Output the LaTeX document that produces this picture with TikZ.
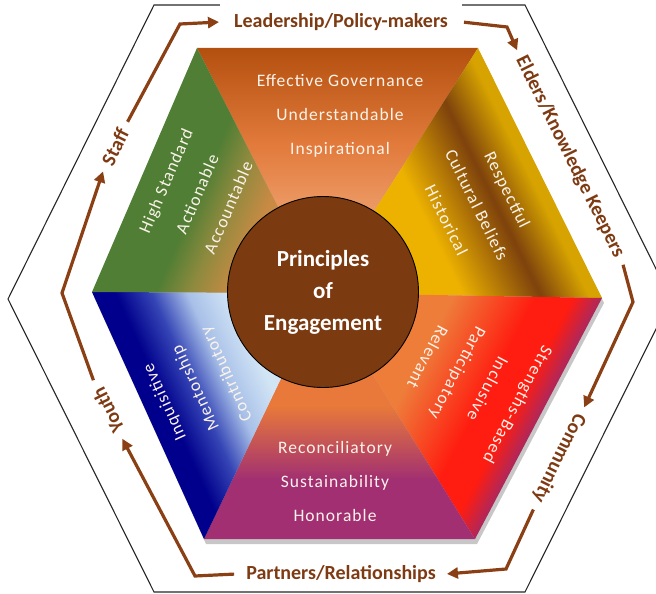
\documentclass[tikz,border=0pt]{standalone}
\usepackage{fontspec}
\setmainfont{Carlito}
\newfontfamily\facetfont[LetterSpace=6]{Carlito}
\usetikzlibrary{arrows.meta}
\definecolor{ringc}{HTML}{7E3A12}
\definecolor{arrowc}{HTML}{8A4014}
\definecolor{corec}{HTML}{7C3A10}
\definecolor{facettextc}{HTML}{FBF3EA}
\definecolor{govlight}{HTML}{F6B68C}
\definecolor{govmid}{HTML}{E27B3C}
\definecolor{govdark}{HTML}{B4500F}
\definecolor{standgreen}{HTML}{4F7E34}
\definecolor{standolive}{HTML}{8E8A3E}
\definecolor{standtan}{HTML}{C98A44}
\definecolor{herigold}{HTML}{EDB200}
\definecolor{heribrown}{HTML}{7E420C}
\definecolor{heriedge}{HTML}{D6A300}
\definecolor{strorange}{HTML}{EE7D3A}
\definecolor{strred}{HTML}{FF1C10}
\definecolor{strpurple}{HTML}{9A2A6E}
\definecolor{recorange}{HTML}{E8793A}
\definecolor{recpurple}{HTML}{A12F72}
\definecolor{mentdark}{HTML}{00008C}
\definecolor{mentmid}{HTML}{3545B5}
\definecolor{mentlight}{HTML}{A8C0E8}
\definecolor{mentpale}{HTML}{D2E5F5}
% colour runs go from the hub (left) to the rim (right)
\pgfdeclarehorizontalshading{governfade}{100bp}{color(0bp)=(govlight); color(30bp)=(govlight); color(55bp)=(govmid); color(75bp)=(govdark); color(100bp)=(govdark)}
\pgfdeclarehorizontalshading{standardfade}{100bp}{color(0bp)=(standtan); color(35bp)=(standtan); color(43bp)=(standolive); color(50bp)=(standgreen); color(100bp)=(standgreen)}
\pgfdeclarehorizontalshading{heritagefade}{100bp}{color(0bp)=(herigold); color(40bp)=(herigold); color(53bp)=(heribrown); color(61bp)=(heriedge); color(100bp)=(heriedge)}
\pgfdeclarehorizontalshading{strengthfade}{100bp}{color(0bp)=(strorange); color(38bp)=(strorange); color(52bp)=(strred); color(58bp)=(strred); color(64bp)=(strpurple); color(100bp)=(strpurple)}
\pgfdeclarehorizontalshading{reconcilefade}{100bp}{color(0bp)=(recorange); color(48bp)=(recorange); color(63bp)=(recpurple); color(100bp)=(recpurple)}
\pgfdeclarehorizontalshading{mentorfade}{100bp}{color(0bp)=(mentpale); color(35bp)=(mentpale); color(43bp)=(mentlight); color(50bp)=(mentmid); color(57bp)=(mentdark); color(100bp)=(mentdark)}
\tikzset{
  rimline/.style={draw=black!85, line width=1.1pt, line join=miter},
  facettext/.style={text=facettextc, align=center, inner sep=0pt,
    font=\facetfont\fontsize{17.5}{34}\selectfont},
  corenode/.style={circle, draw=black, line width=0.9pt, fill=corec, text=white,
    minimum size=191pt, inner sep=0pt, align=center,
    font=\fontsize{23}{32}\selectfont\bfseries},
  ringlabel/.style={text=ringc, inner xsep=7pt, inner ysep=3pt,
    font=\fontsize{20}{24}\selectfont\bfseries},
  flowarrow/.style={draw=arrowc, line width=3.2pt, line join=miter,
    -{Triangle[length=11pt,width=11pt]}, shorten <=2pt, shorten >=1pt},
}

\begin{document}
\begin{tikzpicture}[x=1pt, y=-1pt]
  \useasboundingbox (0,0) rectangle (656,594);
  \draw[rimline] (154,5) -- (525,5) -- (671,299) -- (525,592) -- (154,592) -- (8,299) -- cycle;

  \coordinate (hexTL) at (197,48);
  \coordinate (hexTR) at (478,48);
  \coordinate (hexR) at (602,298);
  \coordinate (hexBR) at (475,539);
  \coordinate (hexBL) at (204,539);
  \coordinate (hexL) at (92,292);
  \coordinate (hub) at (322,293);

  \fill[black, opacity=0.22] ([shift={(2,5)}]hexTL) -- ([shift={(2,5)}]hexTR) -- ([shift={(2,5)}]hexR)
    -- ([shift={(2,5)}]hexBR) -- ([shift={(2,5)}]hexBL) -- ([shift={(2,5)}]hexL) -- cycle;
  \shade[shading=governfade, shading angle=90] (hexTL) -- (hexTR) -- (hub) -- cycle;
  \shade[shading=heritagefade, shading angle=26.4] (hexTR) -- (hexR) -- (hub) -- cycle;
  \shade[shading=strengthfade, shading angle=-27.7] (hexR) -- (hexBR) -- (hub) -- cycle;
  \shade[shading=reconcilefade, shading angle=-90] (hexBR) -- (hexBL) -- (hub) -- cycle;
  \shade[shading=mentorfade, shading angle=204.5] (hexBL) -- (hexL) -- (hub) -- cycle;
  \shade[shading=standardfade, shading angle=156.7] (hexL) -- (hexTL) -- (hub) -- cycle;

  \node[corenode] (core) at (323,292) {Principles\\of\\Engagement};

  \node[facettext] (governance) at (340,116) {Effective Governance\\Understandable\\Inspirational};
  \node[facettext, rotate=-63.6] (heritage) at (477,205) {Respectful\\Cultural Beliefs\\Historical};
  \node[facettext, rotate=-117.7] (strengths) at (473,381) {Strengths-Based\\Inclusive\\Participatory\\Relevant};
  \node[facettext] (reconcile) at (335,481) {Reconciliatory\\Sustainability\\Honorable};
  \node[facettext, rotate=114.5] (mentor) at (196,388) {Inquisitive\\Mentorship\\Contributory};
  \node[facettext, rotate=66.7] (standard) at (197,194) {High Standard\\Actionable\\Accountable};

  \node[ringlabel, fill=white, inner xsep=14pt, minimum height=36pt] (lead) at (341,22) {Leadership/Policy-makers};
  \node[ringlabel, rotate=-63.6] (elders) at (570,157) {Elders/Knowledge Keepers};
  \node[ringlabel, rotate=-116.5] (community) at (559,458) {Community};
  \node[ringlabel, inner xsep=10pt] (partners) at (341,574) {Partners/Relationships};
  \node[ringlabel, rotate=116.5] (youth) at (108,410) {Youth};
  \node[ringlabel, rotate=63.6] (staff) at (115,147) {Staff};

  \coordinate (bendTL) at (180,24);
  \coordinate (bendTR) at (507,27);
  \coordinate (bendR) at (633,302);
  \coordinate (bendBR) at (506,569);
  \coordinate (bendBL) at (195,576);
  \coordinate (bendL) at (62,293);

  \draw[flowarrow] (staff.east) -- (bendTL) -- (lead.west);
  \draw[flowarrow] (lead.east) -- (bendTR) -- (elders.west);
  \draw[flowarrow] (elders.east) -- (bendR) -- (community.west);
  \draw[flowarrow] (community.east) -- (bendBR) -- (partners.east);
  \draw[flowarrow] (partners.west) -- (bendBL) -- (youth.west);
  \draw[flowarrow] (youth.east) -- (bendL) -- (staff.west);
\end{tikzpicture}
\end{document}
